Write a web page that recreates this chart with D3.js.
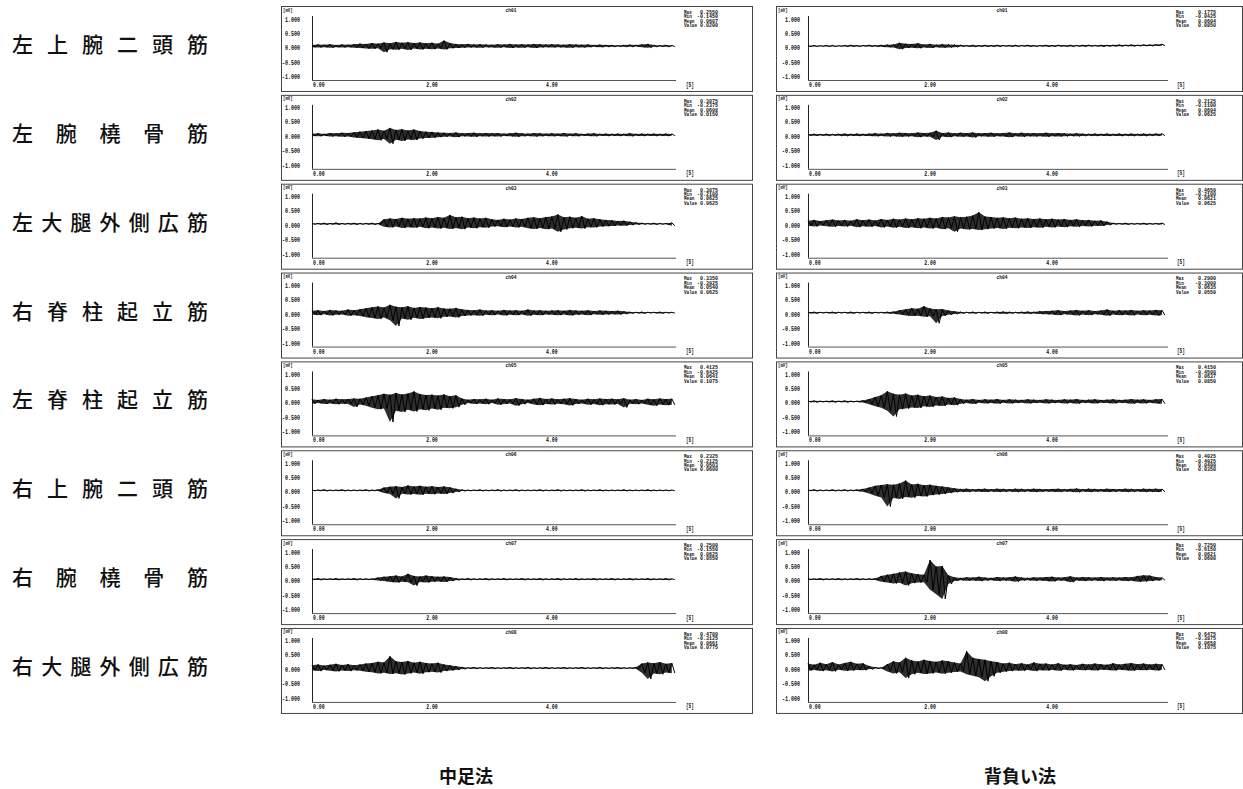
<!DOCTYPE html>
<html lang="ja">
<head>
<meta charset="utf-8">
<script src="https://cdn.jsdelivr.net/npm/d3@7"></script>
<style>
  html, body { margin: 0; padding: 0; background: #fff; }
  svg { display: block; }
</style>
</head>
<body>
<svg id="chart" width="1243" height="789"></svg>
<script>
// Muscle names (one row per EMG channel) and the two throwing techniques
const muscleNames = ["左上腕二頭筋", "左腕橈骨筋", "左大腿外側広筋", "右脊柱起立筋",
                     "左脊柱起立筋", "右上腕二頭筋", "右腕橈骨筋", "右大腿外側広筋"];
const channelNames = ["ch01", "ch02", "ch03", "ch04", "ch05", "ch06", "ch07", "ch08"];
const methodNames = ["中足法", "背負い法"];
const yTickValues = [1, 0.5, 0, -0.5, -1];
const xTickValues = [0, 2, 4];
const statNames = ["Max", "Min", "Mean", "Value"];
const binStep = 0.1; // s per envelope bin

// 中足法: per 0.1 s bin, upper and lower peaks of the raw EMG [mV]
const nakaHigh = [
  [0.10,0.12,0.11,0.13,0.10,0.12,0.11,0.13,0.15,0.14, 0.17,0.15,0.19,0.16,0.21,0.18,0.20,0.17,0.19,0.16,
   0.18,0.15,0.255,0.17,0.14,0.13,0.14,0.12,0.13,0.12, 0.11,0.13,0.12,0.14,0.12,0.13,0.12,0.14,0.13,0.12,
   0.13,0.12,0.11,0.13,0.12,0.11,0.12,0.10,0.11,0.10, 0.10,0.09,0.10,0.11,0.10,0.12,0.14,0.10,0.09,0.10, 0.09],
  [0.11,0.12,0.10,0.13,0.12,0.14,0.13,0.16,0.18,0.20, 0.22,0.25,0.21,0.3075,0.24,0.26,0.22,0.25,0.20,0.18,
   0.17,0.15,0.14,0.13,0.15,0.12,0.13,0.14,0.12,0.13, 0.12,0.13,0.11,0.12,0.14,0.12,0.11,0.13,0.12,0.11,
   0.12,0.11,0.13,0.11,0.12,0.10,0.11,0.12,0.10,0.11, 0.10,0.11,0.10,0.12,0.10,0.11,0.10,0.11,0.10,0.11, 0.10],
  [0.08,0.08,0.09,0.08,0.10,0.08,0.08,0.09,0.08,0.08, 0.09,0.08,0.22,0.25,0.23,0.27,0.24,0.26,0.25,0.28,
   0.26,0.30,0.27,0.37,0.29,0.31,0.26,0.28,0.25,0.27, 0.22,0.20,0.24,0.21,0.25,0.23,0.27,0.29,0.26,0.30,
   0.32,0.3875,0.29,0.31,0.27,0.33,0.24,0.26,0.22,0.20, 0.19,0.16,0.17,0.14,0.11,0.09,0.08,0.09,0.08,0.08, 0.10],
  [0.13,0.15,0.12,0.16,0.14,0.13,0.17,0.15,0.18,0.22, 0.25,0.28,0.24,0.335,0.27,0.25,0.29,0.23,0.26,0.24,
   0.22,0.25,0.21,0.20,0.23,0.18,0.16,0.15,0.17,0.14, 0.15,0.13,0.16,0.14,0.15,0.13,0.17,0.14,0.15,0.13,
   0.14,0.15,0.13,0.16,0.14,0.13,0.15,0.12,0.14,0.13, 0.12,0.13,0.11,0.09,0.08,0.09,0.08,0.08,0.09,0.08, 0.08],
  [0.14,0.12,0.15,0.13,0.16,0.14,0.15,0.17,0.16,0.20, 0.25,0.28,0.33,0.30,0.36,0.31,0.34,0.4125,0.32,0.29,
   0.30,0.27,0.31,0.25,0.28,0.17,0.13,0.15,0.14,0.16, 0.13,0.17,0.15,0.14,0.18,0.15,0.13,0.16,0.19,0.15,
   0.17,0.14,0.16,0.18,0.15,0.13,0.16,0.14,0.17,0.15, 0.16,0.14,0.18,0.13,0.15,0.12,0.16,0.14,0.17,0.15, 0.16],
  [0.08,0.08,0.09,0.08,0.08,0.09,0.08,0.08,0.08,0.09, 0.08,0.09,0.16,0.19,0.21,0.18,0.2325,0.20,0.22,0.19,
   0.21,0.18,0.20,0.17,0.12,0.09,0.08,0.08,0.09,0.08, 0.08,0.09,0.08,0.08,0.09,0.08,0.08,0.08,0.09,0.08,
   0.08,0.09,0.08,0.08,0.08,0.09,0.08,0.08,0.09,0.08, 0.08,0.08,0.09,0.08,0.08,0.08,0.09,0.08,0.08,0.08, 0.08],
  [0.08,0.09,0.08,0.08,0.09,0.08,0.08,0.09,0.08,0.08, 0.08,0.12,0.15,0.17,0.19,0.16,0.25,0.18,0.16,0.19,
   0.17,0.15,0.16,0.14,0.10,0.08,0.09,0.08,0.08,0.09, 0.08,0.08,0.09,0.08,0.08,0.09,0.08,0.08,0.09,0.08,
   0.08,0.09,0.08,0.08,0.09,0.08,0.08,0.09,0.08,0.08, 0.09,0.08,0.08,0.09,0.08,0.08,0.09,0.08,0.08,0.09, 0.08],
  [0.16,0.19,0.15,0.18,0.21,0.17,0.20,0.16,0.19,0.22, 0.24,0.28,0.26,0.47,0.30,0.27,0.31,0.25,0.28,0.24,
   0.22,0.25,0.19,0.16,0.13,0.10,0.08,0.09,0.08,0.08, 0.09,0.08,0.08,0.09,0.08,0.08,0.09,0.08,0.08,0.09,
   0.08,0.08,0.09,0.08,0.08,0.09,0.08,0.08,0.09,0.08, 0.08,0.09,0.08,0.08,0.09,0.22,0.26,0.23,0.27,0.21, 0.24]
];
const nakaLow = [
  [0.03,0.02,0.03,0.01,0.03,0.02,0.03,0.01,0.00,-0.02, -0.03,-0.01,-0.145,-0.04,-0.06,-0.03,-0.07,-0.02,-0.05,-0.03,
   -0.04,-0.02,-0.05,-0.01,0.00,0.01,0.02,0.02,0.01,0.03, 0.02,0.01,0.03,0.00,0.02,0.01,0.03,0.00,0.02,0.03,
   0.02,0.03,0.02,0.01,0.03,0.02,0.03,0.04,0.03,0.04, 0.04,0.05,0.04,0.04,0.05,0.03,0.01,0.04,0.05,0.04, 0.05],
  [0.03,0.02,0.04,0.01,0.02,0.00,0.01,-0.02,-0.04,-0.06, -0.08,-0.12,-0.07,-0.2375,-0.10,-0.14,-0.09,-0.11,-0.06,-0.04,
   -0.03,-0.01,0.00,0.01,-0.01,0.02,0.01,0.00,0.02,0.01, 0.02,0.01,0.03,0.02,0.00,0.02,0.03,0.01,0.02,0.03,
   0.02,0.03,0.01,0.03,0.02,0.04,0.03,0.02,0.04,0.03, 0.04,0.03,0.04,0.02,0.04,0.03,0.04,0.03,0.04,0.03, 0.04],
  [0.05,0.05,0.04,0.05,0.04,0.05,0.05,0.04,0.05,0.05, 0.04,0.05,-0.04,-0.06,-0.03,-0.08,-0.05,-0.07,-0.04,-0.09,
   -0.06,-0.10,-0.07,-0.11,-0.08,-0.12,-0.06,-0.09,-0.05,-0.07, -0.03,-0.02,-0.05,-0.03,-0.06,-0.04,-0.09,-0.11,-0.08,-0.12,
   -0.10,-0.21,-0.13,-0.09,-0.07,-0.10,-0.05,-0.06,-0.03,-0.02, -0.01,0.01,0.00,0.02,0.04,0.05,0.05,0.04,0.05,0.05, 0.00],
  [0.00,-0.02,0.01,-0.03,-0.01,0.00,-0.04,-0.02,-0.05,-0.09, -0.12,-0.15,-0.10,-0.20,-0.3925,-0.14,-0.18,-0.11,-0.15,-0.12,
   -0.10,-0.13,-0.08,-0.07,-0.10,-0.05,-0.03,-0.02,-0.04,-0.01, -0.02,0.00,-0.03,-0.01,-0.02,0.00,-0.04,-0.01,-0.02,0.00,
   -0.01,-0.02,0.00,-0.03,-0.01,0.00,-0.02,0.01,-0.01,0.00, 0.01,0.00,0.02,0.04,0.05,0.04,0.05,0.05,0.04,0.05, 0.05],
  [-0.01,0.01,-0.02,0.00,-0.03,-0.01,-0.02,-0.12,-0.04,-0.08, -0.15,-0.20,-0.18,-0.6425,-0.25,-0.30,-0.22,-0.28,-0.20,-0.24,
   -0.18,-0.22,-0.15,-0.17,-0.13,-0.05,0.01,-0.02,0.00,-0.03, 0.01,-0.05,-0.02,0.00,-0.08,-0.03,0.01,-0.04,-0.06,-0.02,
   -0.04,-0.01,-0.03,-0.07,-0.02,0.00,-0.05,-0.02,-0.06,-0.03, -0.04,-0.02,-0.14,-0.01,-0.03,0.00,-0.05,-0.08,-0.04,-0.06, -0.05],
  [0.05,0.05,0.04,0.05,0.05,0.04,0.05,0.05,0.05,0.04, 0.05,0.04,-0.03,-0.06,-0.2125,-0.05,-0.08,-0.06,-0.09,-0.05,
   -0.07,-0.04,-0.06,-0.03,0.01,0.04,0.05,0.05,0.04,0.05, 0.05,0.04,0.05,0.05,0.04,0.05,0.05,0.05,0.04,0.05,
   0.05,0.04,0.05,0.05,0.05,0.04,0.05,0.05,0.04,0.05, 0.05,0.05,0.04,0.05,0.05,0.05,0.04,0.05,0.05,0.05, 0.05],
  [0.05,0.04,0.05,0.05,0.04,0.05,0.05,0.04,0.05,0.05, 0.05,0.02,0.00,-0.03,-0.05,-0.02,-0.04,-0.155,-0.03,-0.05,
   -0.02,-0.01,-0.03,0.00,0.03,0.05,0.04,0.05,0.05,0.04, 0.05,0.05,0.04,0.05,0.05,0.04,0.05,0.05,0.04,0.05,
   0.05,0.04,0.05,0.05,0.04,0.05,0.05,0.04,0.05,0.05, 0.04,0.05,0.05,0.04,0.05,0.05,0.04,0.05,0.05,0.04, 0.05],
  [-0.01,-0.04,0.00,-0.03,-0.05,-0.02,-0.04,-0.01,-0.03,-0.06, -0.08,-0.12,-0.10,-0.14,-0.11,-0.16,-0.12,-0.09,-0.13,-0.08,
   -0.06,-0.09,-0.04,-0.02,0.00,0.03,0.05,0.04,0.05,0.05, 0.04,0.05,0.05,0.04,0.05,0.05,0.04,0.05,0.05,0.04,
   0.05,0.05,0.04,0.05,0.05,0.04,0.05,0.05,0.04,0.05, 0.05,0.04,0.05,0.05,0.04,-0.10,-0.3125,-0.12,-0.15,-0.09, -0.11]
];
const nakaMean  = [0.0607, 0.0698, 0.0625, 0.0540, 0.0641, 0.0503, 0.0625, 0.0661];
const nakaValue = [0.0200, 0.0150, 0.0625, 0.0625, 0.1075, 0.0600, 0.0550, 0.0775];

// 背負い法: per 0.1 s bin, upper and lower peaks of the raw EMG [mV]
const seoiHigh = [
  [0.08,0.09,0.08,0.09,0.09,0.08,0.09,0.10,0.09,0.09, 0.10,0.09,0.10,0.11,0.12,0.1775,0.15,0.14,0.16,0.12,
   0.14,0.11,0.13,0.12,0.11,0.10,0.09,0.10,0.09,0.10, 0.09,0.10,0.09,0.09,0.10,0.09,0.10,0.09,0.09,0.10,
   0.09,0.10,0.09,0.10,0.09,0.10,0.10,0.09,0.10,0.10, 0.10,0.11,0.10,0.11,0.10,0.11,0.11,0.12,0.13],
  [0.09,0.10,0.09,0.10,0.09,0.10,0.11,0.10,0.11,0.10, 0.11,0.12,0.11,0.13,0.12,0.14,0.13,0.12,0.15,0.13,
   0.14,0.2125,0.13,0.15,0.12,0.14,0.13,0.15,0.12,0.13, 0.14,0.12,0.13,0.15,0.12,0.14,0.12,0.13,0.12,0.14,
   0.12,0.13,0.12,0.11,0.12,0.11,0.10,0.11,0.10,0.11, 0.10,0.11,0.10,0.11,0.10,0.11,0.10,0.11,0.11],
  [0.17,0.20,0.16,0.19,0.21,0.18,0.20,0.17,0.22,0.19, 0.21,0.18,0.23,0.20,0.24,0.21,0.25,0.22,0.26,0.24,
   0.27,0.25,0.30,0.28,0.33,0.29,0.31,0.35,0.465,0.32, 0.30,0.27,0.29,0.26,0.28,0.24,0.26,0.23,0.25,0.22,
   0.24,0.21,0.23,0.20,0.22,0.19,0.20,0.17,0.18,0.14, 0.09,0.08,0.09,0.08,0.08,0.09,0.08,0.08,0.09],
  [0.08,0.09,0.08,0.08,0.09,0.08,0.08,0.09,0.08,0.08, 0.09,0.08,0.08,0.09,0.10,0.15,0.18,0.22,0.20,0.29,
   0.21,0.18,0.19,0.14,0.11,0.09,0.08,0.09,0.08,0.09, 0.08,0.09,0.10,0.09,0.08,0.09,0.10,0.09,0.11,0.12,
   0.13,0.15,0.12,0.14,0.16,0.13,0.15,0.12,0.14,0.17, 0.13,0.15,0.14,0.16,0.13,0.15,0.14,0.16,0.15],
  [0.08,0.09,0.08,0.08,0.09,0.08,0.09,0.08,0.08,0.10, 0.15,0.22,0.28,0.415,0.33,0.30,0.34,0.27,0.30,0.25,
   0.27,0.22,0.24,0.19,0.20,0.15,0.13,0.15,0.12,0.14, 0.13,0.15,0.12,0.14,0.13,0.12,0.14,0.13,0.12,0.14,
   0.13,0.12,0.14,0.13,0.15,0.12,0.13,0.14,0.12,0.13, 0.14,0.12,0.13,0.15,0.13,0.14,0.12,0.14,0.15],
  [0.08,0.09,0.08,0.08,0.09,0.08,0.09,0.08,0.09,0.11, 0.16,0.22,0.25,0.28,0.26,0.30,0.4025,0.27,0.29,0.24,
   0.26,0.22,0.20,0.17,0.14,0.11,0.12,0.10,0.11,0.12, 0.10,0.12,0.11,0.10,0.12,0.11,0.10,0.12,0.11,0.10,
   0.11,0.12,0.10,0.11,0.13,0.10,0.12,0.11,0.10,0.12, 0.11,0.10,0.12,0.11,0.10,0.12,0.11,0.12,0.11],
  [0.08,0.08,0.09,0.08,0.08,0.09,0.08,0.08,0.09,0.08, 0.08,0.09,0.18,0.22,0.25,0.30,0.33,0.27,0.24,0.22,
   0.725,0.50,0.52,0.20,0.13,0.11,0.13,0.12,0.15,0.12, 0.11,0.14,0.12,0.13,0.16,0.12,0.11,0.13,0.12,0.14,
   0.15,0.12,0.13,0.17,0.12,0.14,0.13,0.12,0.14,0.12, 0.13,0.12,0.14,0.13,0.18,0.20,0.19,0.14,0.12],
  [0.22,0.18,0.25,0.20,0.27,0.19,0.24,0.28,0.21,0.23, 0.14,0.09,0.08,0.20,0.30,0.26,0.42,0.33,0.29,0.35,
   0.31,0.28,0.33,0.30,0.26,0.22,0.6475,0.42,0.38,0.35, 0.30,0.27,0.22,0.25,0.20,0.23,0.19,0.26,0.21,0.22,
   0.19,0.23,0.18,0.20,0.17,0.21,0.19,0.22,0.20,0.18, 0.23,0.19,0.21,0.24,0.20,0.22,0.19,0.21,0.20]
];
const seoiLow = [
  [0.05,0.05,0.06,0.05,0.05,0.06,0.05,0.05,0.05,0.06, 0.05,0.05,0.04,0.03,0.02,-0.0425,0.00,0.01,-0.01,0.02,
   0.00,0.03,0.01,0.02,0.03,0.05,0.05,0.04,0.05,0.05, 0.05,0.05,0.06,0.05,0.05,0.06,0.05,0.05,0.06,0.05,
   0.05,0.06,0.05,0.05,0.06,0.05,0.06,0.06,0.05,0.06, 0.06,0.06,0.07,0.06,0.07,0.07,0.07,0.08,0.08],
  [0.05,0.04,0.05,0.04,0.05,0.04,0.03,0.04,0.03,0.04, 0.03,0.02,0.03,0.01,0.02,0.00,0.01,0.02,-0.01,0.01,
   0.00,-0.11,0.01,-0.01,0.02,0.00,0.01,-0.02,0.02,0.01, 0.00,0.02,0.01,-0.01,0.02,0.00,0.02,0.01,0.02,0.00,
   0.02,0.01,0.02,0.03,0.02,0.03,0.04,0.03,0.04,0.03, 0.04,0.03,0.04,0.03,0.04,0.03,0.04,0.04,0.04],
  [0.00,-0.03,0.01,-0.02,-0.04,-0.01,-0.03,0.00,-0.05,-0.02, -0.04,-0.01,-0.06,-0.03,-0.07,-0.04,-0.08,-0.05,-0.09,-0.06,
   -0.10,-0.07,-0.12,-0.09,-0.21,-0.10,-0.13,-0.11,-0.15,-0.12, -0.10,-0.08,-0.11,-0.07,-0.09,-0.06,-0.08,-0.05,-0.07,-0.04,
   -0.06,-0.03,-0.05,-0.02,-0.04,-0.01,-0.03,0.00,-0.01,0.02, 0.05,0.05,0.04,0.05,0.05,0.04,0.05,0.05,0.04],
  [0.05,0.04,0.05,0.05,0.04,0.05,0.05,0.04,0.05,0.05, 0.04,0.05,0.05,0.04,0.03,0.00,-0.03,-0.05,-0.04,-0.08,
   -0.06,-0.30,-0.05,-0.01,0.02,0.04,0.05,0.04,0.05,0.04, 0.05,0.04,0.03,0.04,0.05,0.04,0.03,0.04,0.02,0.01,
   0.00,-0.02,0.01,-0.01,-0.03,0.00,-0.02,0.01,-0.01,-0.04, 0.00,-0.02,-0.01,-0.03,0.00,-0.02,-0.01,-0.03,-0.02],
  [0.05,0.04,0.05,0.05,0.04,0.05,0.04,0.05,0.05,0.03, -0.03,-0.10,-0.15,-0.25,-0.45,-0.20,-0.18,-0.14,-0.16,-0.10,
   -0.12,-0.07,-0.09,-0.04,-0.06,-0.01,0.01,-0.02,0.02,0.00, 0.01,-0.01,0.02,0.00,0.01,0.02,0.00,0.01,0.02,0.00,
   0.01,0.02,0.00,0.01,-0.01,0.02,0.01,0.00,0.02,0.01, 0.00,0.02,0.01,-0.01,0.01,0.00,0.02,0.00,-0.01],
  [0.05,0.04,0.05,0.05,0.04,0.05,0.04,0.05,0.04,0.02, -0.04,-0.12,-0.18,-0.4925,-0.20,-0.23,-0.16,-0.19,-0.13,-0.15,
   -0.10,-0.08,-0.06,-0.03,0.00,0.02,0.01,0.03,0.02,0.01, 0.03,0.01,0.02,0.03,0.01,0.02,0.03,0.01,0.02,0.03,
   0.02,0.01,0.03,0.02,0.00,0.03,0.01,0.02,0.03,0.01, 0.02,0.03,0.01,0.02,0.03,0.01,0.02,0.01,0.02],
  [0.05,0.05,0.04,0.05,0.05,0.04,0.05,0.05,0.04,0.05, 0.05,0.04,-0.02,-0.05,-0.08,-0.06,-0.15,-0.07,-0.05,-0.04,
   -0.30,-0.45,-0.615,-0.10,0.00,0.03,0.01,0.02,0.00,0.02, 0.03,0.00,0.02,0.01,-0.02,0.02,0.03,0.01,0.02,0.00,
   -0.01,0.02,0.01,-0.04,0.02,0.00,0.01,0.02,0.00,0.02, 0.01,0.02,0.00,0.01,-0.02,-0.01,0.00,0.02,0.03],
  [-0.02,0.00,-0.04,-0.01,-0.05,0.01,-0.03,-0.02,0.00,-0.01, 0.02,0.05,0.05,-0.05,-0.12,-0.08,-0.28,-0.15,-0.10,-0.14,
   -0.12,-0.09,-0.13,-0.10,-0.07,-0.05,-0.15,-0.20,-0.25,-0.3875, -0.22,-0.10,-0.06,-0.04,-0.02,-0.03,0.00,-0.04,-0.01,-0.02,
   0.00,-0.03,0.01,-0.02,0.01,-0.01,0.00,-0.02,0.01,0.00, -0.02,0.01,-0.01,-0.03,0.00,-0.01,0.01,-0.02,0.00]
];
const seoiMean  = [0.0604, 0.0694, 0.0621, 0.0635, 0.0637, 0.0499, 0.0621, 0.0658];
const seoiValue = [0.0850, 0.0625, 0.0625, 0.0550, 0.0850, 0.0350, 0.0600, 0.1075];

// ---------- layout ----------
const svg = d3.select("#chart");
const rowTop = i => 6 + i * 88.85;
const panelH = 85;
const monoFont = "'Liberation Mono', 'DejaVu Sans Mono', monospace";
const jpFont = "'Noto Sans CJK JP', 'Noto Sans CJK SC', sans-serif";

const columns = [
  { high: nakaHigh, low: nakaLow, mean: nakaMean, value: nakaValue,
    frameX: 281, frameW: 471, axisX: 312, tEnd: 6.07, plotW: 364,
    titleX: 511, statX: 684, statRight: 718, unitX: 686, labelX: 466 },
  { high: seoiHigh, low: seoiLow, mean: seoiMean, value: seoiValue,
    frameX: 776, frameW: 466, axisX: 808, tEnd: 5.9, plotW: 360,
    titleX: 1002, statX: 1176, statRight: 1216, unitX: 1177, labelX: 1020 }
];

// Squeeze monospace text into the narrow cell width of the recorder's printout
function monoText(sel, str, cell) {
  sel.text(str)
    .attr("font-family", monoFont)
    .attr("font-weight", 700)
    .attr("textLength", str.length * cell)
    .attr("lengthAdjust", "spacingAndGlyphs");
  return sel;
}

const fmtAxis = d => d.toFixed(3);
const fmtTime = d => d.toFixed(2);
const fmtStat = d => d.toFixed(4);

// Row labels (muscle names), spread across a fixed width
svg.append("g").selectAll("text")
  .data(muscleNames)
  .join("text")
  .attr("x", 12)
  .attr("y", (d, i) => rowTop(i) + 37)
  .attr("dominant-baseline", "central")
  .attr("font-family", jpFont)
  .attr("font-size", 21)
  .attr("font-weight", 500)
  .attr("fill", "#111")
  .attr("textLength", 196)
  .attr("lengthAdjust", "spacing")
  .text(d => d);

columns.forEach((col, ci) => {
  const x = d3.scaleLinear().domain([0, col.tEnd]).range([col.axisX, col.axisX + col.plotW]);

  channelNames.forEach((ch, ri) => {
    const top = rowTop(ri);
    const y = d3.scaleLinear().domain([-1, 1]).range([top + 71, top + 13]);
    const g = svg.append("g");

    // panel frame
    g.append("rect")
      .attr("x", col.frameX + 0.5).attr("y", top + 0.5)
      .attr("width", col.frameW).attr("height", panelH)
      .attr("fill", "none").attr("stroke", "#444").attr("stroke-width", 1);

    // y axis with labels
    const yAxisX = col.axisX + 0.5;
    g.append("line")
      .attr("x1", yAxisX).attr("x2", yAxisX)
      .attr("y1", top + 10).attr("y2", top + 74)
      .attr("stroke", "#222").attr("stroke-width", 1);
    yTickValues.forEach(v => {
      monoText(g.append("text"), fmtAxis(v), 3.0)
        .attr("x", col.axisX - (ci === 0 ? 12 : 8))
        .attr("y", v === 1 ? y(v) + 0.5 : y(v))
        .attr("text-anchor", "end")
        .attr("dominant-baseline", "central")
        .attr("font-size", 7.5)
        .attr("fill", "#111");
    });
    monoText(g.append("text"), "[mV]", 2.4)
      .attr("x", col.frameX + 2).attr("y", top + 4)
      .attr("dominant-baseline", "central")
      .attr("font-size", 6).attr("fill", "#111");

    // x axis with labels
    g.append("line")
      .attr("x1", col.axisX).attr("x2", col.axisX + col.plotW)
      .attr("y1", top + 74.5).attr("y2", top + 74.5)
      .attr("stroke", "#555").attr("stroke-width", 1);
    xTickValues.forEach(v => {
      monoText(g.append("text"), fmtTime(v), 2.9)
        .attr("x", v === 0 ? x(v) + 1 : x(v))
        .attr("y", top + 79)
        .attr("text-anchor", v === 0 ? "start" : "middle")
        .attr("dominant-baseline", "central")
        .attr("font-size", 7.5)
        .attr("fill", "#111");
    });
    monoText(g.append("text"), "[S]", 2.6)
      .attr("x", col.unitX).attr("y", top + 79)
      .attr("dominant-baseline", "central")
      .attr("font-size", 6.5).attr("fill", "#111");

    // channel title
    monoText(g.append("text"), ch, 2.8)
      .attr("x", col.titleX).attr("y", top + 4.5)
      .attr("text-anchor", "middle")
      .attr("dominant-baseline", "central")
      .attr("font-size", 6).attr("fill", "#111");

    // EMG trace: peak envelope filled, then a zig-zag between the peaks of each bin
    const hi = col.high[ri], lo = col.low[ri];
    const tx = t => x(Math.min(t, col.tEnd));
    const bins = hi.map((h, i) => ({ t: i * binStep, hi: h, lo: lo[i] }));
    const area = d3.area().x(d => tx(d.t)).y0(d => y(d.lo)).y1(d => y(d.hi));
    g.append("path")
      .attr("d", area(bins))
      .attr("fill", "#111")
      .attr("fill-opacity", 0.88)
      .attr("stroke", "none");

    const pts = [];
    bins.forEach(b => {
      pts.push([b.t, b.hi]);
      pts.push([b.t + binStep / 2, b.lo]);
    });
    const line = d3.line().x(d => tx(d[0])).y(d => y(d[1]));
    g.append("path")
      .attr("d", line(pts))
      .attr("fill", "none")
      .attr("stroke", "#000")
      .attr("stroke-width", 1);

    // statistics block
    const stats = [d3.max(hi), d3.min(lo), col.mean[ri], col.value[ri]];
    statNames.forEach((name, k) => {
      const yy = top + 6.3 + k * 4.45;
      monoText(g.append("text"), name, 2.6)
        .attr("x", col.statX).attr("y", yy)
        .attr("dominant-baseline", "central")
        .attr("font-size", 5.5).attr("fill", "#111");
      monoText(g.append("text"), fmtStat(stats[k]), 3.0)
        .attr("x", col.statRight).attr("y", yy)
        .attr("text-anchor", "end")
        .attr("dominant-baseline", "central")
        .attr("font-size", 5.5).attr("fill", "#111");
    });
  });

  // technique label under each column
  svg.append("text")
    .attr("x", col.labelX).attr("y", 775)
    .attr("text-anchor", "middle")
    .attr("dominant-baseline", "central")
    .attr("font-family", jpFont)
    .attr("font-size", 18)
    .attr("font-weight", 700)
    .attr("fill", "#111")
    .text(methodNames[ci]);
});
</script>
</body>
</html>
